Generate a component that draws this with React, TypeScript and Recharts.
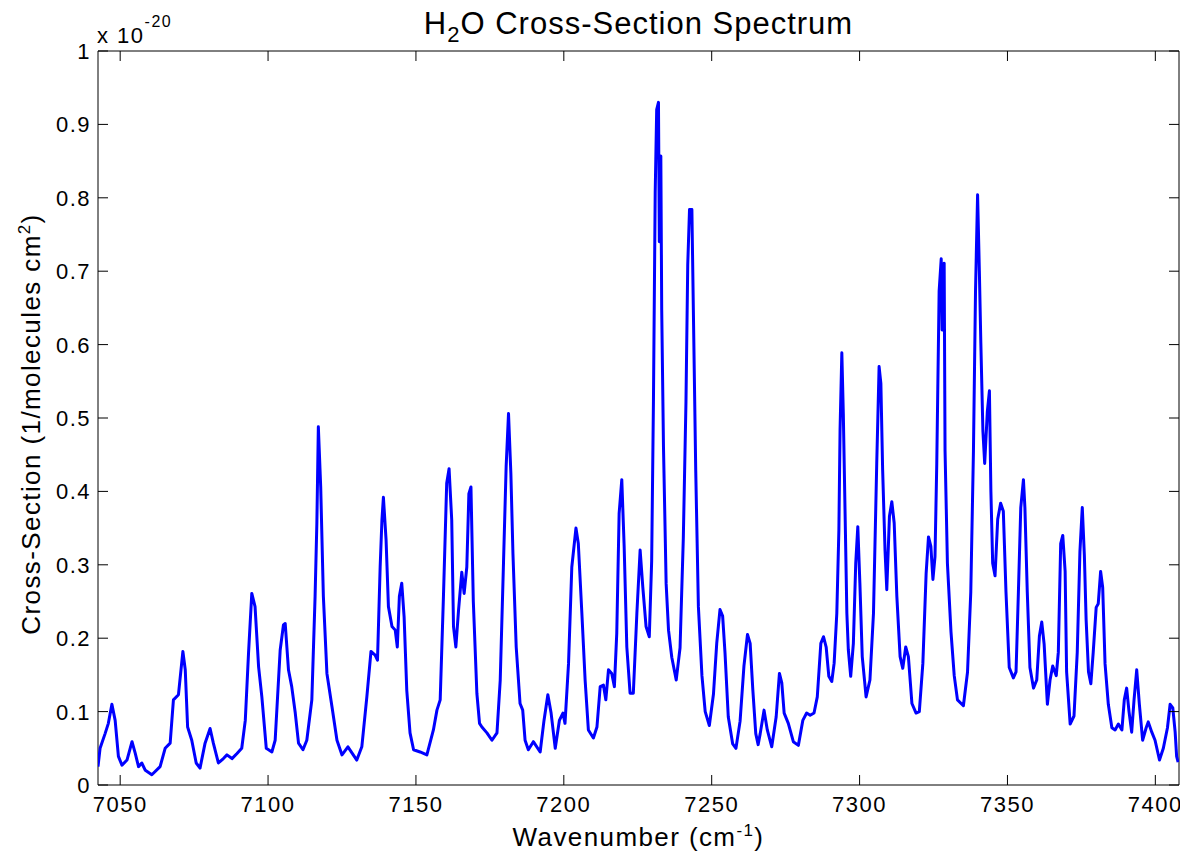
import { LineChart, Line, XAxis, YAxis, ReferenceArea } from "recharts";

// wavenumber (cm^-1) and cross-section (x 1e-20)
const wavenumber = [
  7042.5, 7043.2, 7044.9, 7046.0, 7047.2, 7048.3, 7049.4, 7050.6, 7052.3, 7054.0,
  7055.1, 7056.2, 7057.3, 7058.5, 7060.7, 7063.5, 7065.2, 7066.9, 7068.0, 7069.7,
  7071.2, 7072.0, 7072.8, 7074.2, 7075.7, 7077.0, 7078.7, 7080.4, 7081.5, 7083.2,
  7084.9, 7086.1, 7087.8, 7089.5, 7091.1, 7092.3, 7093.4, 7094.5, 7095.6, 7096.8,
  7097.9, 7099.4, 7101.3, 7102.4, 7104.1, 7105.2, 7105.8, 7106.9, 7108.0, 7109.2,
  7110.3, 7111.8, 7113.1, 7114.8, 7115.9, 7116.5, 7117.0, 7117.8, 7118.7, 7119.9,
  7121.6, 7123.3, 7125.0, 7127.0, 7130.0, 7131.7, 7133.4, 7134.8, 7136.2, 7137.0,
  7137.9, 7138.5, 7139.0, 7139.9, 7140.7, 7141.9, 7143.0, 7143.7, 7144.4, 7145.2,
  7146.0, 7146.9, 7148.0, 7149.2, 7151.4, 7153.7, 7155.9, 7157.1, 7158.2, 7159.3,
  7160.4, 7161.2, 7162.1, 7162.7, 7163.5, 7164.4, 7165.5, 7166.3, 7167.2, 7167.9,
  7168.6, 7169.4, 7170.6, 7171.5, 7172.3, 7174.0, 7175.7, 7177.4, 7178.5, 7179.6,
  7180.5, 7181.3, 7182.1, 7182.8, 7183.9, 7185.2, 7186.1, 7186.9, 7188.0, 7189.7,
  7192.0, 7193.3, 7194.6, 7195.7, 7197.1, 7198.5, 7199.7, 7200.4, 7201.6, 7202.7,
  7204.1, 7204.9, 7206.1, 7207.2, 7208.3, 7210.0, 7211.2, 7212.3, 7213.4, 7214.2,
  7215.1, 7216.2, 7217.1, 7217.9, 7218.7, 7219.6, 7220.4, 7221.3, 7222.4, 7223.5,
  7224.7, 7225.8, 7226.7, 7227.8, 7228.9, 7229.7, 7230.3, 7230.9, 7231.4, 7232.0,
  7232.3, 7232.8, 7233.1, 7233.7, 7234.6, 7235.4, 7236.5, 7238.0, 7239.3, 7240.4,
  7241.3, 7241.9, 7242.5, 7243.3, 7243.8, 7244.6, 7245.5, 7246.7, 7247.8, 7249.2,
  7250.6, 7251.7, 7252.8, 7253.7, 7254.5, 7255.6, 7257.1, 7258.2, 7259.6, 7260.9,
  7262.1, 7263.0, 7263.9, 7264.9, 7265.7, 7266.4, 7267.7, 7268.8, 7270.3, 7271.8,
  7272.9, 7273.7, 7274.5, 7275.9, 7277.6, 7279.3, 7280.8, 7282.1, 7283.3, 7284.6,
  7285.7, 7286.9, 7287.8, 7288.7, 7289.6, 7290.6, 7291.4, 7292.3, 7293.0, 7293.4,
  7294.0, 7294.5, 7295.1, 7295.7, 7296.2, 7297.0, 7297.9, 7298.7, 7299.4, 7300.1,
  7300.9, 7302.2, 7303.5, 7304.7, 7305.8, 7306.6, 7307.2, 7307.8, 7308.6, 7309.2,
  7310.1, 7310.9, 7311.7, 7312.6, 7313.7, 7314.6, 7315.6, 7316.5, 7317.7, 7319.1,
  7320.2, 7321.4, 7322.5, 7323.3, 7324.1, 7324.8, 7325.5, 7326.1, 7326.9, 7327.6,
  7327.9, 7328.6, 7328.9, 7329.7, 7330.9, 7332.0, 7333.1, 7335.1, 7336.5, 7337.6,
  7338.5, 7339.2, 7339.9, 7340.5, 7341.0, 7341.7, 7342.3, 7343.2, 7343.9, 7344.4,
  7345.0, 7345.8, 7346.7, 7347.7, 7348.6, 7349.5, 7350.6, 7352.0, 7352.9, 7353.7,
  7354.5, 7355.4, 7355.9, 7356.7, 7357.6, 7358.8, 7359.9, 7360.8, 7361.6, 7362.4,
  7363.5, 7364.4, 7365.3, 7366.5, 7367.2, 7368.0, 7368.7, 7369.5, 7370.0, 7371.2,
  7372.5, 7373.6, 7374.5, 7375.3, 7376.0, 7376.6, 7377.4, 7378.2, 7379.0, 7380.0,
  7380.7, 7381.5, 7382.2, 7383.0, 7384.1, 7385.3, 7386.4, 7387.5, 7388.7, 7389.5,
  7390.3, 7391.1, 7392.0, 7392.8, 7393.7, 7394.6, 7395.7, 7396.9, 7397.6, 7398.8,
  7399.9, 7401.4, 7402.7, 7404.1, 7405.0, 7405.9, 7406.7, 7407.2, 7407.7,
];

const crossSection = [
  0.025, 0.05, 0.07, 0.084, 0.11, 0.088, 0.039, 0.027, 0.034, 0.059,
  0.043, 0.025, 0.03, 0.02, 0.014, 0.025, 0.05, 0.057, 0.116, 0.123,
  0.182, 0.157, 0.079, 0.061, 0.03, 0.023, 0.057, 0.077, 0.057, 0.03,
  0.036, 0.041, 0.036, 0.043, 0.05, 0.088, 0.18, 0.261, 0.243, 0.161,
  0.12, 0.05, 0.045, 0.061, 0.184, 0.218, 0.22, 0.157, 0.134, 0.098,
  0.057, 0.048, 0.061, 0.116, 0.257, 0.357, 0.488, 0.406, 0.257, 0.152,
  0.107, 0.061, 0.041, 0.052, 0.034, 0.052, 0.12, 0.182, 0.177, 0.17,
  0.297, 0.361, 0.392, 0.334, 0.243, 0.216, 0.211, 0.188, 0.257, 0.275,
  0.229, 0.129, 0.071, 0.048, 0.045, 0.041, 0.075, 0.102, 0.116, 0.257,
  0.411, 0.431, 0.361, 0.216, 0.188, 0.238, 0.29, 0.261, 0.297, 0.397,
  0.406, 0.25, 0.125, 0.084, 0.079, 0.071, 0.061, 0.071, 0.143, 0.302,
  0.434, 0.506, 0.424, 0.315, 0.188, 0.111, 0.102, 0.061, 0.048, 0.059,
  0.045, 0.088, 0.123, 0.098, 0.05, 0.088, 0.098, 0.084, 0.166, 0.297,
  0.35, 0.329, 0.234, 0.143, 0.075, 0.064, 0.079, 0.134, 0.136, 0.116,
  0.157, 0.152, 0.134, 0.207, 0.37, 0.416, 0.325, 0.188, 0.125, 0.125,
  0.234, 0.32, 0.27, 0.216, 0.202, 0.305, 0.522, 0.808, 0.92, 0.93,
  0.74, 0.857, 0.647, 0.46, 0.274, 0.211, 0.174, 0.143, 0.187, 0.336,
  0.522, 0.709, 0.784, 0.784, 0.647, 0.429, 0.243, 0.149, 0.1, 0.081,
  0.124, 0.193, 0.239, 0.23, 0.18, 0.093, 0.056, 0.05, 0.087, 0.162,
  0.205, 0.193, 0.13, 0.07, 0.055, 0.07, 0.102, 0.075, 0.052, 0.093,
  0.152, 0.139, 0.098, 0.084, 0.059, 0.054, 0.088, 0.098, 0.095, 0.098,
  0.12, 0.193, 0.202, 0.188, 0.148, 0.141, 0.166, 0.234, 0.347, 0.484,
  0.589, 0.506, 0.37, 0.234, 0.184, 0.148, 0.193, 0.302, 0.352, 0.275,
  0.175, 0.12, 0.143, 0.234, 0.438, 0.57, 0.547, 0.429, 0.32, 0.266,
  0.366, 0.386, 0.357, 0.257, 0.175, 0.159, 0.188, 0.175, 0.111, 0.098,
  0.1, 0.166, 0.288, 0.338, 0.325, 0.28, 0.311, 0.438, 0.673, 0.717,
  0.62, 0.711, 0.455, 0.302, 0.209, 0.149, 0.116, 0.108, 0.154, 0.263,
  0.455, 0.673, 0.804, 0.7, 0.602, 0.482, 0.438, 0.509, 0.537, 0.4,
  0.302, 0.285, 0.362, 0.384, 0.373, 0.263, 0.16, 0.146, 0.154, 0.263,
  0.378, 0.416, 0.378, 0.263, 0.16, 0.132, 0.143, 0.203, 0.222, 0.192,
  0.11, 0.143, 0.162, 0.149, 0.181, 0.329, 0.34, 0.291, 0.154, 0.083,
  0.094, 0.181, 0.318, 0.378, 0.313, 0.225, 0.154, 0.138, 0.181, 0.242,
  0.247, 0.291, 0.269, 0.165, 0.11, 0.078, 0.075, 0.083, 0.075, 0.116,
  0.132, 0.1, 0.072, 0.116, 0.157, 0.11, 0.061, 0.078, 0.086, 0.072,
  0.061, 0.034, 0.05, 0.078, 0.11, 0.105, 0.072, 0.039, 0.031,
];

const xDomain = [7042.5, 7408];
const xTicks = [7050, 7100, 7150, 7200, 7250, 7300, 7350, 7400];
const yTicks = [0, 0.1, 0.2, 0.3, 0.4, 0.5, 0.6, 0.7, 0.8, 0.9, 1];

const data = wavenumber.map((w, i) => ({ w, cs: crossSection[i] }));

const W = 1180;
const H = 855;
const MARGIN = { top: 43, right: 9, left: 30, bottom: 48 };
const Y_W = 60;
const X_H = 30;
const PLOT_L = MARGIN.left + Y_W;
const PLOT_R = W - MARGIN.right;
const PLOT_T = MARGIN.top;
const PLOT_B = H - MARGIN.bottom - X_H;
const TICK = 10;
const FONT = '"Liberation Sans", Arial, Helvetica, sans-serif';

function XTick({ x, y, payload }: any) {
  return (
    <g>
      <line x1={x} x2={x} y1={y} y2={y - TICK} stroke="#000" />
      <line x1={x} x2={x} y1={PLOT_T} y2={PLOT_T + TICK} stroke="#000" />
      <text
        x={x}
        y={y + 27}
        textAnchor="middle"
        fontSize={22}
        fontFamily={FONT}
        fill="#000"
        style={{ letterSpacing: 1.5 }}
      >
        {payload.value}
      </text>
    </g>
  );
}

function YTick({ x, y, payload }: any) {
  const v = payload.value;
  const label = v === 0 ? "0" : v === 1 ? "1" : v.toFixed(1);
  return (
    <g>
      <line x1={x} x2={x + TICK} y1={y} y2={y} stroke="#000" />
      <line x1={PLOT_R - TICK} x2={PLOT_R} y1={y} y2={y} stroke="#000" />
      <text
        x={x - 7}
        y={y + 8}
        textAnchor="end"
        fontSize={22}
        fontFamily={FONT}
        fill="#000"
        style={{ letterSpacing: 1.5 }}
      >
        {label}
      </text>
    </g>
  );
}

export default function App() {
  const cx = (PLOT_L + PLOT_R) / 2;
  const cy = (PLOT_T + PLOT_B) / 2;
  return (
    <div style={{ position: "relative", width: W, height: H, background: "#fff" }}>
      <div
        style={{
          position: "absolute",
          left: cx - 320,
          top: 0,
          width: 640,
          textAlign: "center",
          fontFamily: FONT,
          fontSize: 31,
          lineHeight: "31px",
          letterSpacing: 1,
          color: "#000",
          whiteSpace: "nowrap",
        }}
      >
        H<span style={{ fontSize: 22, position: "relative", top: 8 }}>2</span>O Cross-Section Spectrum
      </div>
      <LineChart width={W} height={H} data={data} margin={MARGIN}>
        <XAxis
          dataKey="w"
          type="number"
          domain={xDomain}
          allowDataOverflow
          ticks={xTicks}
          interval={0}
          tick={XTick}
          tickLine={false}
          axisLine={false}
          tickSize={0}
          tickMargin={0}
          height={X_H}
        />
        <YAxis
          type="number"
          domain={[0, 1]}
          allowDataOverflow
          ticks={yTicks}
          interval={0}
          tick={YTick}
          tickLine={false}
          axisLine={false}
          tickSize={0}
          tickMargin={0}
          width={Y_W}
        />
        <ReferenceArea
          x1={xDomain[0]}
          x2={xDomain[1]}
          y1={0}
          y2={1}
          fill="none"
          stroke="#000"
          strokeWidth={1}
        />
        <Line
          type="linear"
          dataKey="cs"
          stroke="#0000ff"
          strokeWidth={3}
          strokeLinejoin="round"
          dot={false}
          isAnimationActive={false}
        />
      </LineChart>
      <svg
        width={W}
        height={H}
        style={{ position: "absolute", left: 0, top: 0, pointerEvents: "none" }}
        fontFamily={FONT}
        fill="#000"
      >
        <text x={89} y={35} fontSize={22} style={{ letterSpacing: 1.5 }}>
          x 10<tspan fontSize={16} dy={-16}>-20</tspan>
        </text>
        <text x={cx} y={838} textAnchor="middle" fontSize={26} style={{ letterSpacing: 1.4 }}>
          Wavenumber (cm<tspan fontSize={17} dy={-10}>-1</tspan>
          <tspan dy={10}>)</tspan>
        </text>
        <text
          transform={`translate(32, ${cy + 6}) rotate(-90)`}
          textAnchor="middle"
          fontSize={26}
          style={{ letterSpacing: 1.4 }}
        >
          Cross-Section (1/molecules cm<tspan fontSize={17} dy={-10}>2</tspan>
          <tspan dy={10}>)</tspan>
        </text>
      </svg>
    </div>
  );
}
